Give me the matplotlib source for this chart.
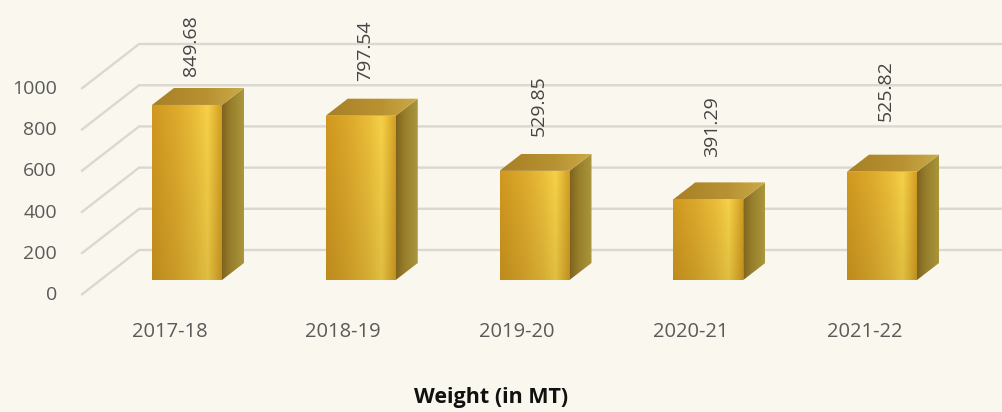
import numpy as np
import matplotlib
matplotlib.use("Agg")
import matplotlib.pyplot as plt
from matplotlib.patches import Polygon
from matplotlib.colors import to_rgb

# ---------------- data ----------------
categories = ["2017-18", "2018-19", "2019-20", "2020-21", "2021-22"]
weights = [849.68, 797.54, 529.85, 391.29, 525.82]
y_ticks = [0, 200, 400, 600, 800, 1000]
value_labels = ["849.68", "797.54", "529.85", "391.29", "525.82"]
axis_title = "Weight (in MT)"

# ---------------- style / layout ----------------
W_PX, H_PX, DPI = 1002, 412, 100
BG = "#FAF7EE"
GRID = "#DCD7CF"
FONT = "Open Sans"
STEP_PX = 173.75          # pixels per category
FIRST_PX = 187            # pixel x of first bar centre
ZERO_ROW = 280            # pixel row (from top) of value 0 on the bar plane
PX_PER_UNIT = 0.206       # vertical pixels per value unit
BAR_W = 70 / STEP_PX
DEPTH = (22, 17)          # bar depth offset in pixels (dx, dy up)
FRONT_OFF = (-19, -15)    # front axis plane relative to bar plane
BACK_OFF = (39, 30)       # back wall relative to bar plane
LABEL_GAP = [29, 35, 35, 42, 51]

fig = plt.figure(figsize=(W_PX / DPI, H_PX / DPI), dpi=DPI)
fig.patch.set_facecolor(BG)
ax = fig.add_axes([0, 0, 1, 1])
ax.set_facecolor(BG)
ax.axis("off")

X0 = -FIRST_PX / STEP_PX
X1 = (W_PX - FIRST_PX) / STEP_PX
Y0 = -(H_PX - ZERO_ROW) / PX_PER_UNIT
Y1 = ZERO_ROW / PX_PER_UNIT


def dx(p):
    return p / STEP_PX


def dy(p):
    return p / PX_PER_UNIT


# gridlines (3D wall)
for v in y_ticks:
    fx, fy = -0.5 + dx(FRONT_OFF[0]), v + dy(FRONT_OFF[1])
    bx, by = -0.5 + dx(BACK_OFF[0]), v + dy(BACK_OFF[1])
    ax.plot([fx, bx, X1], [fy, by, by], color=GRID, lw=1.7, zorder=1,
            solid_capstyle="butt", clip_on=False)
    ax.text(fx - dx(24), fy, f"{v}", ha="right", va="center",
            fontsize=14, color="#5A5A5A", family=FONT)


def hex_arr(stops, n=64):
    pos = np.array([s[0] for s in stops])
    cols = np.array([to_rgb(s[1]) for s in stops])
    t = np.linspace(0, 1, n)
    return np.stack([np.interp(t, pos, cols[:, k]) for k in range(3)], axis=-1)


front_h = hex_arr([(0.0, "#CC951F"), (0.35, "#D9A72B"), (0.62, "#E6BA38"),
                   (0.8, "#F1CD46"), (0.92, "#DDB031"), (1.0, "#CE9B22")], 80)
vert = np.linspace(0.93, 1.02, 60)[:, None, None]
front_img = np.clip(front_h[None, :, :] * vert, 0, 1)

side_h = hex_arr([(0.0, "#7E641E"), (0.35, "#957C2A"), (1.0, "#AA973C")], 40)
side_img = side_h[None, :, :].repeat(10, axis=0)

top_h = hex_arr([(0.0, "#A88026"), (0.6, "#B89232"), (1.0, "#CBAA48")], 40)
top_img = top_h[None, :, :].repeat(10, axis=0)

ddx, ddy = dx(DEPTH[0]), dy(DEPTH[1])
bars = ax.bar(range(len(weights)), weights, width=BAR_W, color="none",
              edgecolor="none", zorder=3)
for i, (b, v) in enumerate(zip(bars, weights)):
    xl, xr = i - BAR_W / 2, i + BAR_W / 2
    im = ax.imshow(front_img, extent=[xl, xr, 0, v], origin="lower",
                   aspect="auto", interpolation="bilinear", zorder=3)
    im.set_clip_path(b)
    side = Polygon([(xr, 0), (xr + ddx, ddy), (xr + ddx, v + ddy), (xr, v)],
                   closed=True, facecolor="none", edgecolor="none", zorder=3)
    ax.add_patch(side)
    im2 = ax.imshow(side_img, extent=[xr, xr + ddx, 0, v + ddy], origin="lower",
                    aspect="auto", interpolation="bilinear", zorder=3)
    im2.set_clip_path(side)
    top = Polygon([(xl, v), (xl + ddx, v + ddy), (xr + ddx, v + ddy), (xr, v)],
                  closed=True, facecolor="none", edgecolor="none", zorder=3)
    ax.add_patch(top)
    im3 = ax.imshow(top_img, extent=[xl, xr + ddx, v, v + ddy], origin="lower",
                    aspect="auto", interpolation="bilinear", zorder=3)
    im3.set_clip_path(top)
    ax.text(i + dx(4), v + dy(LABEL_GAP[i]), value_labels[i], rotation=90,
            ha="center", va="bottom", fontsize=14, color="#444444",
            family=FONT, zorder=5)
    ax.text(i - dx(17.5), -dy(52), categories[i], ha="center", va="center",
            fontsize=14.5, color="#5A5A5A", family=FONT)

fig.text(491 / W_PX, 1 - 398 / H_PX, axis_title, ha="center", va="center",
         fontsize=15.5, fontweight="bold", color="#111111", family=FONT)

ax.set_xlim(X0, X1)
ax.set_ylim(Y0, Y1)
fig.savefig("out.png", dpi=DPI, facecolor=BG)
